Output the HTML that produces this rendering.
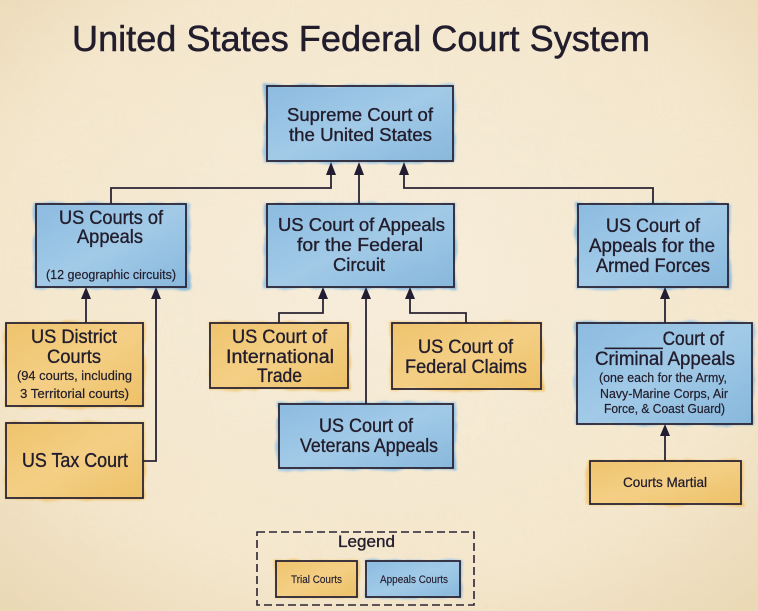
<!DOCTYPE html>
<html><head><meta charset="utf-8"><style>
html,body{margin:0;padding:0;width:758px;height:611px;overflow:hidden;background:#f5e9d0}
svg{display:block}
text{font-family:"Liberation Sans",sans-serif;fill:#221d2c}
</style></head><body>
<svg width="758" height="611" viewBox="0 0 758 611" xmlns="http://www.w3.org/2000/svg">
<defs>
<radialGradient id="bg" cx="50%" cy="45%" r="72%">
<stop offset="0" stop-color="#f7eddb"/><stop offset="0.7" stop-color="#f4e7cd"/><stop offset="1" stop-color="#ebd9b6"/>
</radialGradient>
<linearGradient id="blue" x1="0" y1="0" x2="1" y2="1">
<stop offset="0" stop-color="#8bbbe0"/><stop offset="0.5" stop-color="#a2cae7"/><stop offset="1" stop-color="#86b7dc"/>
</linearGradient>
<linearGradient id="yel" x1="0" y1="0" x2="1" y2="1">
<stop offset="0" stop-color="#efc36b"/><stop offset="0.5" stop-color="#f4cf85"/><stop offset="1" stop-color="#edc066"/>
</linearGradient>
<filter id="wc" x="-10%" y="-10%" width="120%" height="120%">
<feTurbulence type="fractalNoise" baseFrequency="0.05" numOctaves="2" seed="3"/>
<feDisplacementMap in="SourceGraphic" scale="6"/>
<feGaussianBlur stdDeviation="1"/>
</filter>
<filter id="stain" x="0" y="0" width="100%" height="100%">
<feTurbulence type="fractalNoise" baseFrequency="0.012" numOctaves="3" seed="8"/>
<feColorMatrix values="0 0 0 0 0.80  0 0 0 0 0.70  0 0 0 0 0.50  0 0 0 0.3 -0.08"/>
</filter>
</defs>
<rect width="758" height="611" fill="url(#bg)"/>
<rect width="758" height="611" filter="url(#stain)" opacity="0.4"/>

<!-- Title -->
<text x="72" y="51" font-size="36" stroke="#221d2c" stroke-width="0.5" textLength="578" lengthAdjust="spacingAndGlyphs">United States Federal Court System</text>

<!-- fills -->
<g filter="url(#wc)">
<rect x="264" y="85" width="191" height="78" fill="url(#blue)"/>
<rect x="34" y="203" width="156" height="86" fill="url(#blue)"/>
<rect x="264" y="203" width="192" height="86" fill="url(#blue)"/>
<rect x="576" y="203" width="154" height="86" fill="url(#blue)"/>
<rect x="5" y="322" width="140" height="86" fill="url(#yel)"/>
<rect x="5" y="422" width="140" height="78" fill="url(#yel)"/>
<rect x="209" y="322" width="141" height="68" fill="url(#yel)"/>
<rect x="390" y="322" width="153" height="68" fill="url(#yel)"/>
<rect x="277" y="402" width="179" height="68" fill="url(#blue)"/>
<rect x="575" y="322" width="179" height="103" fill="url(#blue)"/>
<rect x="587" y="460" width="156" height="45" fill="url(#yel)"/>
<rect x="275" y="560" width="84" height="38" fill="url(#yel)"/>
<rect x="365" y="560" width="97" height="38" fill="url(#blue)"/>
</g>

<!-- borders -->
<g fill="none" stroke="#2a2434" stroke-width="1.8">
<rect x="267" y="86" width="186" height="75"/>
<rect x="36" y="204" width="150" height="83"/>
<rect x="267" y="204" width="187" height="83"/>
<rect x="578" y="204" width="150" height="83"/>
<rect x="6" y="323" width="137" height="83"/>
<rect x="6" y="423" width="137" height="75"/>
<rect x="210" y="323" width="138" height="65"/>
<rect x="392" y="323" width="149" height="66"/>
<rect x="279" y="404" width="174" height="64"/>
<rect x="577" y="323" width="175" height="101"/>
<rect x="590" y="461" width="151" height="43"/>
<rect x="276" y="561" width="81" height="36"/>
<rect x="366" y="561" width="94" height="36"/>
<rect x="257" y="532" width="217" height="73" stroke-dasharray="8 4" stroke-width="1.6"/>
</g>

<!-- connectors -->
<g fill="none" stroke="#2a2434" stroke-width="1.8">
<polyline points="331,172 331,188 111,188 111,204"/>
<polyline points="359,172 359,204"/>
<polyline points="404,172 404,188 653,188 653,204"/>
<polyline points="86,296 86,323"/>
<polyline points="156,296 156,461 143,461"/>
<polyline points="323,296 323,313 279,313 279,323"/>
<polyline points="366,296 366,404"/>
<polyline points="410,296 410,313 466,313 466,323"/>
<polyline points="665,296 665,323"/>
<polyline points="665,432 665,461"/>
</g>
<g fill="#231d33">
<path d="M326,175 L331,162 L336,175 Z"/>
<path d="M354,175 L359,162 L364,175 Z"/>
<path d="M399,175 L404,162 L409,175 Z"/>
<path d="M81,299 L86,287 L91,299 Z"/>
<path d="M151,299 L156,287 L161,299 Z"/>
<path d="M318,299 L323,287 L328,299 Z"/>
<path d="M361,299 L366,287 L371,299 Z"/>
<path d="M405,299 L410,287 L415,299 Z"/>
<path d="M660,299 L665,287 L670,299 Z"/>
<path d="M660,436 L665,424 L670,436 Z"/>
</g>

<!-- texts -->
<g font-size="18" stroke="#221d2c" stroke-width="0.35">
<text x="287" y="121" textLength="146" lengthAdjust="spacingAndGlyphs">Supreme Court of</text>
<text x="289" y="141" textLength="143" lengthAdjust="spacingAndGlyphs">the United States</text>

<text x="59" y="224" font-size="19" textLength="104" lengthAdjust="spacingAndGlyphs">US Courts of</text>
<text x="77" y="243" font-size="19" textLength="66" lengthAdjust="spacingAndGlyphs">Appeals</text>
<text x="46" y="279" font-size="12.5" stroke-width="0.2" textLength="130" lengthAdjust="spacingAndGlyphs">(12 geographic circuits)</text>

<text x="278" y="231" textLength="167" lengthAdjust="spacingAndGlyphs">US Court of Appeals</text>
<text x="297" y="251" textLength="126" lengthAdjust="spacingAndGlyphs">for the Federal</text>
<text x="333" y="271" textLength="52" lengthAdjust="spacingAndGlyphs">Circuit</text>

<text x="606" y="232" font-size="19" textLength="94" lengthAdjust="spacingAndGlyphs">US Court of</text>
<text x="589" y="252" font-size="19" textLength="126" lengthAdjust="spacingAndGlyphs">Appeals for the</text>
<text x="596" y="272" font-size="19" textLength="114" lengthAdjust="spacingAndGlyphs">Armed Forces</text>

<text x="31" y="343" font-size="19" textLength="86" lengthAdjust="spacingAndGlyphs">US District</text>
<text x="47" y="363" font-size="19" textLength="54" lengthAdjust="spacingAndGlyphs">Courts</text>
<text x="17" y="380" font-size="13" stroke-width="0.2" textLength="115" lengthAdjust="spacingAndGlyphs">(94 courts, including</text>
<text x="20" y="398" font-size="13" stroke-width="0.2" textLength="109" lengthAdjust="spacingAndGlyphs">3 Territorial courts)</text>

<text x="22" y="467" font-size="20" textLength="106" lengthAdjust="spacingAndGlyphs">US Tax Court</text>

<text x="232" y="343" font-size="19" textLength="95" lengthAdjust="spacingAndGlyphs">US Court of</text>
<text x="226" y="363" font-size="19" textLength="108" lengthAdjust="spacingAndGlyphs">International</text>
<text x="257" y="382" font-size="19" textLength="45" lengthAdjust="spacingAndGlyphs">Trade</text>

<text x="418" y="353" font-size="19" textLength="95" lengthAdjust="spacingAndGlyphs">US Court of</text>
<text x="405" y="373" font-size="19" textLength="122" lengthAdjust="spacingAndGlyphs">Federal Claims</text>

<text x="319" y="432" font-size="19" textLength="94" lengthAdjust="spacingAndGlyphs">US Court of</text>
<text x="300" y="452" font-size="19" textLength="138" lengthAdjust="spacingAndGlyphs">Veterans Appeals</text>

<text x="605" y="345" font-size="19" textLength="119" lengthAdjust="spacingAndGlyphs">______Court of</text>
<text x="595" y="365" font-size="19" textLength="140" lengthAdjust="spacingAndGlyphs">Criminal Appeals</text>
<text x="599" y="382" font-size="12.5" stroke-width="0.2" textLength="128" lengthAdjust="spacingAndGlyphs">(one each for the Army,</text>
<text x="600" y="398" font-size="12.5" stroke-width="0.2" textLength="128" lengthAdjust="spacingAndGlyphs">Navy-Marine Corps, Air</text>
<text x="604" y="413" font-size="12.5" stroke-width="0.2" textLength="121" lengthAdjust="spacingAndGlyphs">Force, &amp; Coast Guard)</text>

<text x="623" y="487" font-size="14" stroke-width="0.25" textLength="84" lengthAdjust="spacingAndGlyphs">Courts Martial</text>

<text x="338" y="547" font-size="17" textLength="57" lengthAdjust="spacingAndGlyphs">Legend</text>
<text x="291" y="583" font-size="11" stroke-width="0.15" textLength="51" lengthAdjust="spacingAndGlyphs">Trial Courts</text>
<text x="380" y="583" font-size="11" stroke-width="0.15" textLength="68" lengthAdjust="spacingAndGlyphs">Appeals Courts</text>
</g>
</svg>
</body></html>
